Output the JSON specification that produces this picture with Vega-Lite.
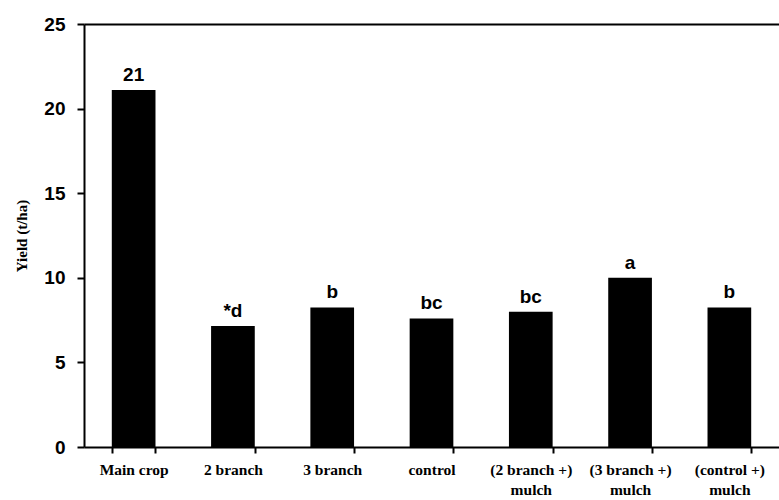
{
  "$schema": "https://vega.github.io/schema/vega-lite/v6.json",
  "autosize": "none",
  "padding": {"left": 84, "top": 24, "right": 0, "bottom": 53},
  "width": 695,
  "height": 423,
  "background": "white",
  "config": {
    "view": {"stroke": null},
    "axis": {"grid": false, "domainColor": "black", "domainWidth": 2, "tickColor": "black", "tickWidth": 2, "labelColor": "black", "titleColor": "black"}
  },
  "data": {
    "values": [
      {"treatment": "Main crop", "yield": 21.1, "sig": "21"},
      {"treatment": "2 branch", "yield": 7.15, "sig": "*d"},
      {"treatment": "3 branch", "yield": 8.25, "sig": "b"},
      {"treatment": "control", "yield": 7.6, "sig": "bc"},
      {"treatment": "(2 branch +) mulch", "yield": 8.0, "sig": "bc"},
      {"treatment": "(3 branch +) mulch", "yield": 10.0, "sig": "a"},
      {"treatment": "(control +) mulch", "yield": 8.25, "sig": "b"}
    ]
  },
  "encoding": {
    "y": {
      "field": "yield", "type": "quantitative",
      "scale": {"domain": [0, 25], "nice": false},
      "axis": {
        "values": [0, 5, 10, 15, 20, 25], "tickSize": 7,
        "labelFont": "Liberation Sans", "labelFontWeight": "bold", "labelFontSize": 19,
        "labelPadding": 12,
        "title": "Yield (t/ha)", "titleFont": "Liberation Serif", "titleFontWeight": "bold", "titleFontSize": 15,
        "titlePadding": 14
      }
    }
  },
  "layer": [
    {
      "mark": {"type": "bar", "color": "black"},
      "encoding": {
        "x": {
          "field": "treatment", "type": "nominal", "sort": null,
          "scale": {"paddingInner": 0.56, "paddingOuter": 0.28},
          "axis": {
            "orient": "bottom",
            "title": null, "labelAngle": 0, "tickBand": "extent", "tickSize": 6,
            "labelFont": "Liberation Serif", "labelFontWeight": "bold", "labelFontSize": 15.5,
            "labelPadding": 9, "labelLineHeight": 20,
            "labelExpr": "indexof(datum.label, ' mulch') > 0 ? [replace(datum.label, ' mulch', ''), 'mulch'] : datum.label"
          }
        }
      }
    },
    {
      "mark": {"type": "text", "dy": -15, "font": "Liberation Sans", "fontWeight": "bold", "fontSize": 19, "color": "black"},
      "encoding": {
        "x": {
          "field": "treatment", "type": "nominal", "sort": null,
          "axis": {"orient": "top", "title": null, "labels": false, "ticks": false, "domain": true}
        },
        "text": {"field": "sig"}
      }
    }
  ]
}
